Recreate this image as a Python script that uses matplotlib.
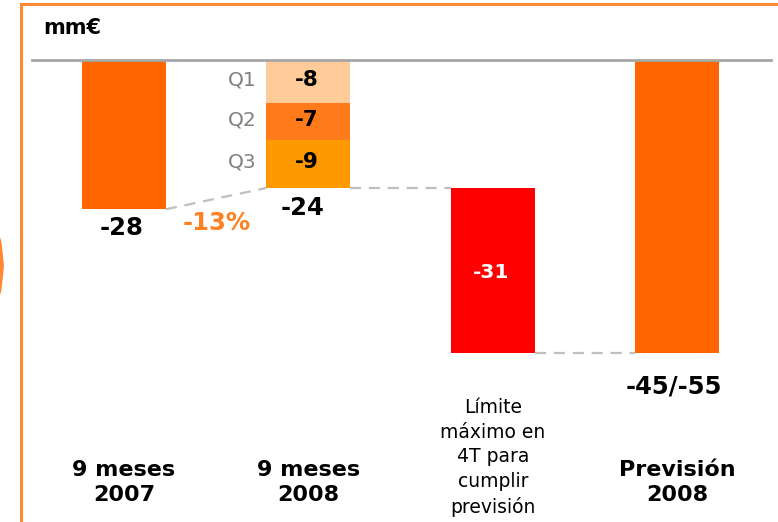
import matplotlib
matplotlib.use("Agg")
import matplotlib.pyplot as plt
from matplotlib.lines import Line2D
from matplotlib.patches import Polygon

# ---- data ----
categories = ["9 meses\n2007", "9 meses\n2008",
              "Límite\nmáximo en\n4T para\ncumplir\nprevisión", "Previsión\n2008"]
total_2007 = -28
quarters_2008 = [-8, -7, -9]
quarter_labels = ["Q1", "Q2", "Q3"]
total_2008 = -24
limit_4t = -31
forecast_low = -45
forecast_high = -55
change_label = "-13%"
unit_label = "mm€"

# ---- style ----
ORANGE = "#FF6600"
Q_COLORS = ["#FFCC99", "#FF7A1A", "#FF9900"]
RED = "#FF0000"
FRAME = "#FF8A33"
W = 0.455

fig = plt.figure(figsize=(7.78, 5.22), dpi=100)
ax = fig.add_axes([0, 0, 1, 1])
ax.set_xlim(-0.672, 3.545)
ax.set_ylim(-86.68, 11.26)
ax.axis("off")

# frame
fig.add_artist(Line2D([20.5/778, 1], [1-3.5/522, 1-3.5/522], transform=fig.transFigure,
                      color=FRAME, lw=2.2))
fig.add_artist(Line2D([20.5/778, 20.5/778], [0, 1-3.5/522], transform=fig.transFigure,
                      color=FRAME, lw=2.2))
fig.add_artist(Polygon([(0, 1-237/522), (1.5/778, 1-242/522), (4/778, 1-266/522),
                        (1.5/778, 1-290/522), (0, 1-295/522)],
                       closed=True, transform=fig.transFigure, color=FRAME, lw=0))

# baseline
ax.axhline(0, xmin=32/778, xmax=771/778, color="#A6A6A6", lw=2, zorder=3)

# bars
ax.bar(0, total_2007, width=W, color=ORANGE, zorder=2)
bottom = 0
for v, c in zip(quarters_2008, Q_COLORS):
    ax.bar(1, v, width=W, bottom=bottom, color=c, zorder=2)
    bottom += v
ax.bar(2, limit_4t, width=W, bottom=total_2008, color=RED, zorder=2)
ax.bar(3, forecast_high, width=W, color=ORANGE, zorder=2)

# connectors
dash = dict(color="#BFBFBF", lw=1.6, ls=(0, (5, 3.5)), zorder=1)
ax.plot([0 + W/2, 1 - W/2], [total_2007, total_2008], **dash)
ax.plot([1 + W/2, 2 - W/2], [total_2008, total_2008], **dash)
ax.plot([2 + W/2, 3 - W/2], [total_2008 + limit_4t, total_2008 + limit_4t], **dash)

big = dict(fontsize=17.5, fontweight="bold", ha="center", va="center")

# value labels
ax.text(-0.015, total_2007 - 3.5, str(total_2007), color="black", **big)
ax.text(0.5, total_2007 - 2.5, change_label, color="#FF8020", **big)
ax.text(0.97, total_2008 - 3.8, str(total_2008), color="black", **big)
ax.text(1.99, total_2008 + limit_4t / 2 - 0.3, str(limit_4t), color="white",
        fontsize=14.5, fontweight="bold", ha="center", va="center")
ax.text(2.98, forecast_high - 6.2, f"{forecast_low}/{forecast_high}", color="black", **big)

# quarter labels
bottom = 0
for v, lab in zip(quarters_2008, quarter_labels):
    yc = bottom + v / 2
    ax.text(0.99, yc + 0.3, str(v), color="black", fontsize=15.5, fontweight="bold",
            ha="center", va="center")
    ax.text(0.72, yc + 0.3, lab, color="#808080", fontsize=14.5, ha="right", va="center")
    bottom += v

# category labels
for i, lab in enumerate(categories):
    if i == 2:
        ax.text(i, -74.6, lab, ha="center", va="center", fontsize=13.5,
                linespacing=1.38, color="black")
    else:
        ax.text(i, -79.2, lab, ha="center", va="center", fontsize=16,
                fontweight="bold", linespacing=1.3, color="black")

# unit
fig.text(43/778, 1-28/522, unit_label, fontsize=15, fontweight="bold",
         ha="left", va="center")

fig.savefig("out.png", dpi=100)
